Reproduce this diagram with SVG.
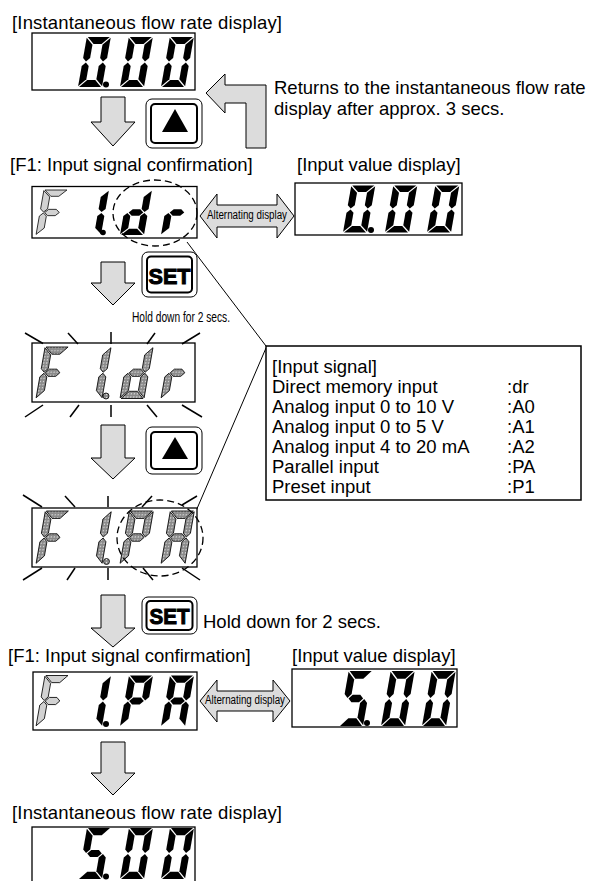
<svg xmlns="http://www.w3.org/2000/svg" width="592" height="881" viewBox="0 0 592 881">
<style>
text{font-family:"Liberation Sans",Arial,sans-serif;fill:#000}
.lbl{font-size:18.5px}
.small{font-size:15px}
.alt{font-size:12.5px}
.set{font-size:22px;font-weight:bold;stroke:#000;stroke-width:1}
.frame{fill:#fff;stroke:#000;stroke-width:1.3}
.on{fill:#000}
.dim{fill:#d2d2d2;stroke:#000;stroke-width:0.8}
.bl{fill:url(#hatch);stroke:#000;stroke-width:0.8}
.garrow{fill:#dcdcdc;stroke:#000;stroke-width:1}
.btn-o{fill:#fff;stroke:#000;stroke-width:1}
.btn-i{fill:#fff;stroke:#000;stroke-width:2}
.ray{stroke:#000;stroke-width:1.5;fill:none}
.dash{fill:none;stroke:#000;stroke-width:1.3;stroke-dasharray:7 4}
.ptr{fill:none;stroke:#000;stroke-width:1}
</style>
<defs>
<pattern id="hatch" patternUnits="userSpaceOnUse" width="3" height="3">
<rect width="3" height="3" fill="#8a8a8a"/>
<circle cx="1.5" cy="1.5" r="0.7" fill="#dedede"/>
</pattern>
<polygon id="sa" points="1,-50 23,-50 16,-43 8,-43"/>
<polygon id="sb" points="24,-49.3 24,-29 20.5,-25.5 17,-29 17,-42.3"/>
<polygon id="sc" points="24,-0.7 24,-21 20.5,-24.5 17,-21 17,-7.7"/>
<polygon id="sd" points="1,0 8,-7 16,-7 23,0"/>
<polygon id="se" points="0,-21 3.5,-24.5 7,-21 7,-7.7 0,-0.7"/>
<polygon id="sf" points="0,-49.3 7,-42.3 7,-29 3.5,-25.5 0,-29"/>
<polygon id="sg" points="4.7,-25 8.2,-28.5 15.8,-28.5 19.3,-25 15.8,-21.5 8.2,-21.5"/>
<g id="d0"><use href="#sa"/><use href="#sb"/><use href="#sc"/><use href="#sd"/><use href="#se"/><use href="#sf"/></g>
<g id="d5"><use href="#sa"/><use href="#sc"/><use href="#sd"/><use href="#sf"/><use href="#sg"/></g>
<g id="d1"><use href="#sb"/><use href="#sc"/></g>
<g id="dd"><use href="#sb"/><use href="#sc"/><use href="#sd"/><use href="#se"/><use href="#sg"/></g>
<g id="dr"><use href="#se"/><use href="#sg"/></g>
<g id="dF"><use href="#sa"/><use href="#se"/><use href="#sf"/><use href="#sg"/></g>
<g id="dP"><use href="#sa"/><use href="#sb"/><use href="#se"/><use href="#sf"/><use href="#sg"/></g>
<g id="dA"><use href="#sa"/><use href="#sb"/><use href="#sc"/><use href="#se"/><use href="#sf"/><use href="#sg"/></g>
</defs>

<rect width="592" height="881" fill="#fff"/>

<!-- connectors -->
<g id="connectors">
<polygon class="garrow" points="101,97 125,97 125,122 135,122 113,146 91,122 101,122"/>
<polygon class="garrow" points="101,262 125,262 125,283 135,283 113,305 91,283 101,283"/>
<polygon class="garrow" points="101,425 125,425 125,458 135,458 113,479 91,458 101,458"/>
<polygon class="garrow" points="101,595 125,595 125,628 135,628 113,647 91,628 101,628"/>
<polygon class="garrow" points="101,742 125,742 125,773 135,773 113,795 91,773 101,773"/>
<polygon class="garrow" points="206,93 225,74 225,85 266,85 266,148 246,148 246,103 225,103 225,113"/>
<g id="alt1">
<polygon class="garrow" points="200,216 217,194 217,205 277,205 277,194 294,216 277,238 277,227 217,227 217,238"/>
<text class="alt" x="247" y="218.5" text-anchor="middle" textLength="80" lengthAdjust="spacingAndGlyphs">Alternating display</text>
</g>
<g id="alt2">
<polygon class="garrow" points="200,701 217,680 217,691 273,691 273,680 290,701 273,722 273,711 217,711 217,722"/>
<text class="alt" x="245" y="704" text-anchor="middle" textLength="80" lengthAdjust="spacingAndGlyphs">Alternating display</text>
</g>
<line class="ptr" x1="266" y1="346" x2="187" y2="242"/>
<line class="ptr" x1="266" y1="348" x2="196" y2="511"/>
</g>

<!-- labels -->
<g id="labels">
<text class="lbl" x="12" y="28.5" textLength="270">[Instantaneous flow rate display]</text>
<text class="lbl" x="274" y="93.5">Returns to the instantaneous flow rate</text>
<text class="lbl" x="274" y="114.5">display after approx. 3 secs.</text>
<text class="lbl" x="10" y="171">[F1: Input signal confirmation]</text>
<text class="lbl" x="297" y="171">[Input value display]</text>
<text class="small" x="132" y="321.5" textLength="98" lengthAdjust="spacingAndGlyphs">Hold down for 2 secs.</text>
<text class="lbl" x="203" y="628">Hold down for 2 secs.</text>
<text class="lbl" x="8" y="662">[F1: Input signal confirmation]</text>
<text class="lbl" x="292" y="662">[Input value display]</text>
<text class="lbl" x="12" y="819" textLength="270">[Instantaneous flow rate display]</text>
</g>

<!-- buttons -->
<g id="btn-up1">
<rect class="btn-o" x="146" y="99" width="56" height="49" rx="6"/>
<rect class="btn-i" x="151" y="104" width="46" height="39" rx="4"/>
<polygon points="175,109 188,132 162,132" fill="#000"/>
</g>
<g id="btn-set1">
<rect class="btn-o" x="142" y="252" width="55" height="45" rx="6"/>
<rect class="btn-i" x="147" y="256.5" width="45" height="36" rx="4"/>
<text class="set" x="169.5" y="283.5" text-anchor="middle" textLength="42" lengthAdjust="spacingAndGlyphs">SET</text>
</g>
<g id="btn-up2">
<rect class="btn-o" x="146" y="427" width="56" height="47" rx="6"/>
<rect class="btn-i" x="151" y="432" width="46" height="37" rx="4"/>
<polygon points="175,437 188,459 162,459" fill="#000"/>
</g>
<g id="btn-set2">
<rect class="btn-o" x="142" y="597" width="55" height="37" rx="6"/>
<rect class="btn-i" x="146.5" y="601" width="46" height="29" rx="4"/>
<text class="set" x="169.5" y="624" text-anchor="middle" textLength="40" lengthAdjust="spacingAndGlyphs">SET</text>
</g>

<!-- display 1 -->
<g id="disp-flow1">
<rect class="frame" x="32" y="33" width="163" height="57"/>
<g class="on">
<use href="#d0" transform="translate(78,87) skewX(-10)"/>
<use href="#d0" transform="translate(120,87) skewX(-10)"/>
<use href="#d0" transform="translate(161,87) skewX(-10)"/>
<circle cx="106" cy="84.5" r="3"/>
</g>
</g>

<!-- F1 dr -->
<g id="disp-f1dr">
<rect class="frame" x="32" y="186.5" width="165" height="51.5"/>
<use class="dim" href="#dF" transform="translate(36,235) skewX(-10) scale(1,0.9)"/>
<g class="on">
<use href="#d1" transform="translate(77,235) skewX(-10) scale(1,0.9)"/>
<use href="#dd" transform="translate(120,235) skewX(-10) scale(1,0.9)"/>
<use href="#dr" transform="translate(161,235) skewX(-10) scale(1,0.9)"/>
<circle cx="103" cy="232.5" r="2.8"/>
</g>
<ellipse class="dash" cx="155" cy="213" rx="42" ry="33"/>
</g>

<!-- input value 1 -->
<g id="disp-input1">
<rect class="frame" x="295" y="183" width="167" height="52"/>
<g class="on">
<use href="#d0" transform="translate(343,232.5) skewX(-10) scale(1,0.94)"/>
<use href="#d0" transform="translate(385,232.5) skewX(-10) scale(1,0.94)"/>
<use href="#d0" transform="translate(427,232.5) skewX(-10) scale(1,0.94)"/>
<circle cx="371" cy="230" r="3"/>
</g>
</g>

<!-- blink 1 -->
<g id="disp-blink1">
<rect class="frame" x="32" y="343" width="163" height="59"/>
<g class="bl">
<use href="#dF" transform="translate(36,398.5) skewX(-10) scale(1,1.03)"/>
<use href="#d1" transform="translate(78,398.5) skewX(-10) scale(1,1.03)"/>
<use href="#dd" transform="translate(120,398.5) skewX(-10) scale(1,1.03)"/>
<use href="#dr" transform="translate(161,398.5) skewX(-10) scale(1,1.03)"/>
<circle cx="106" cy="396" r="3"/>
</g>
<g class="ray">
<line x1="25" y1="333" x2="43" y2="343.5"/>
<line x1="68" y1="333" x2="78" y2="344"/>
<line x1="111" y1="332" x2="111" y2="344"/>
<line x1="155" y1="333" x2="147" y2="344"/>
<line x1="200" y1="333" x2="182" y2="344"/>
<line x1="43" y1="405" x2="25" y2="417"/>
<line x1="79" y1="405" x2="70" y2="417"/>
<line x1="111" y1="405" x2="111" y2="417"/>
<line x1="147" y1="405" x2="157" y2="417"/>
<line x1="182" y1="405" x2="202" y2="417"/>
</g>
</g>

<!-- input signal box -->
<g id="input-signal-box">
<rect x="266" y="346" width="315" height="154" fill="#fff" stroke="#000" stroke-width="1.5"/>
<text class="lbl" x="272" y="373">[Input signal]</text>
<text class="lbl" x="272" y="393">Direct memory input</text>
<text class="lbl" x="272" y="413">Analog input 0 to 10 V</text>
<text class="lbl" x="272" y="433">Analog input 0 to 5 V</text>
<text class="lbl" x="272" y="453">Analog input 4 to 20 mA</text>
<text class="lbl" x="272" y="473">Parallel input</text>
<text class="lbl" x="272" y="493">Preset input</text>
<text class="lbl" x="507" y="393">:dr</text>
<text class="lbl" x="507" y="413">:A0</text>
<text class="lbl" x="507" y="433">:A1</text>
<text class="lbl" x="507" y="453">:A2</text>
<text class="lbl" x="507" y="473">:PA</text>
<text class="lbl" x="507" y="493">:P1</text>
</g>

<!-- blink 2 -->
<g id="disp-blink2">
<rect class="frame" x="32" y="508" width="165" height="59"/>
<g class="bl">
<use href="#dF" transform="translate(36,564) skewX(-10) scale(1,1.06)"/>
<use href="#d1" transform="translate(78,564) skewX(-10) scale(1,1.06)"/>
<use href="#dP" transform="translate(120,564) skewX(-10) scale(1,1.06)"/>
<use href="#dA" transform="translate(161,564) skewX(-10) scale(1,1.06)"/>
<circle cx="106.5" cy="561.5" r="3"/>
</g>
<ellipse class="dash" cx="160" cy="538" rx="43" ry="38"/>
<g class="ray">
<line x1="23" y1="495" x2="42" y2="507"/>
<line x1="65" y1="496" x2="75" y2="507"/>
<line x1="108" y1="496" x2="108" y2="507"/>
<line x1="152" y1="496" x2="142" y2="507"/>
<line x1="197" y1="496" x2="182" y2="505"/>
<line x1="42" y1="568" x2="23" y2="580"/>
<line x1="75" y1="568" x2="67" y2="580"/>
<line x1="108" y1="568" x2="108" y2="580"/>
<line x1="143" y1="568" x2="153" y2="580"/>
<line x1="182" y1="568" x2="200" y2="580"/>
</g>
</g>

<!-- F1 PA -->
<g id="disp-f1pa">
<rect class="frame" x="33" y="672" width="164" height="58"/>
<use class="dim" href="#dF" transform="translate(36,726.5) skewX(-10) scale(1,1.02)"/>
<g class="on">
<use href="#d1" transform="translate(78,726.5) skewX(-10) scale(1,1.02)"/>
<use href="#dP" transform="translate(120,726.5) skewX(-10) scale(1,1.02)"/>
<use href="#dA" transform="translate(161,726.5) skewX(-10) scale(1,1.02)"/>
<circle cx="106" cy="724" r="3"/>
</g>
</g>

<!-- input value 2 -->
<g id="disp-input2">
<rect class="frame" x="292" y="669" width="165" height="58"/>
<g class="on">
<use href="#d5" transform="translate(339,726) skewX(-10) scale(1,1.1)"/>
<use href="#d0" transform="translate(381,726) skewX(-10) scale(1,1.1)"/>
<use href="#d0" transform="translate(422,726) skewX(-10) scale(1,1.1)"/>
<circle cx="367" cy="723" r="3"/>
</g>
</g>

<!-- final display -->
<g id="disp-flow2">
<rect class="frame" x="32" y="827" width="163" height="60"/>
<g class="on">
<use href="#d5" transform="translate(78,879) skewX(-10) scale(1,1.02)"/>
<use href="#d0" transform="translate(120,879) skewX(-10) scale(1,1.02)"/>
<use href="#d0" transform="translate(161,879) skewX(-10) scale(1,1.02)"/>
<circle cx="106" cy="876.5" r="3"/>
</g>
</g>
</svg>
